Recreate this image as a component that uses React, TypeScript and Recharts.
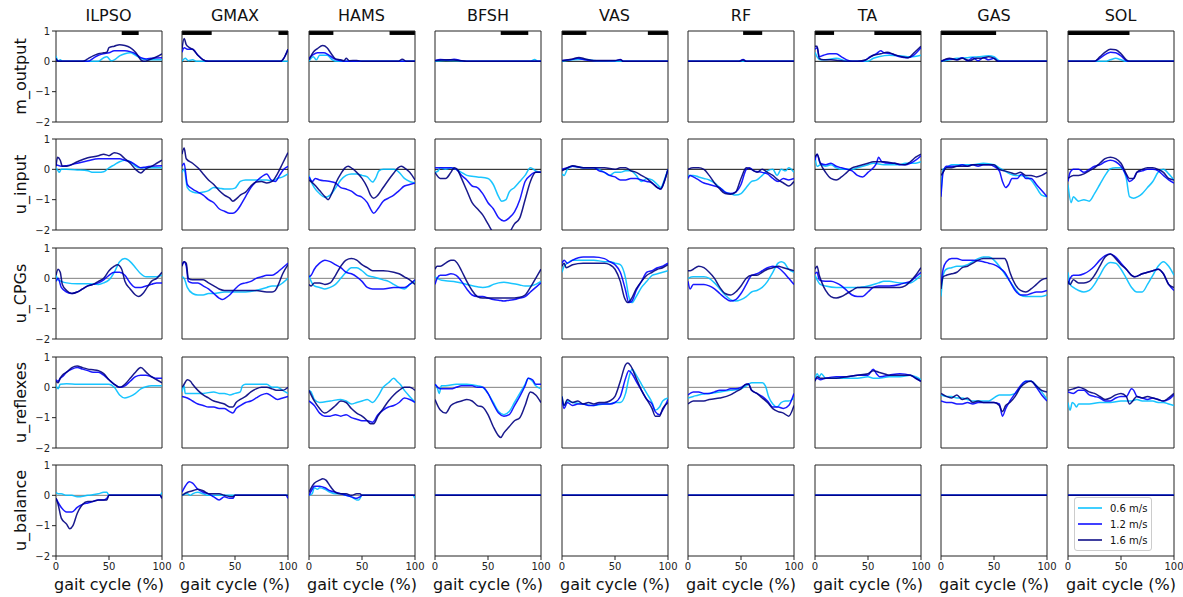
import { Legend, Line, LineChart, ReferenceArea, ReferenceLine, XAxis, YAxis } from "recharts"

type Pt = [number, number]

const MUSCLES = ["ILPSO", "GMAX", "HAMS", "BFSH", "VAS", "RF", "TA", "GAS", "SOL"]
const SIGNALS = ["m_output", "u_input", "u_CPGs", "u_reflexes", "u_balance"]
const SPEEDS = ["0.6 m/s", "1.2 m/s", "1.6 m/s"]
const COLORS = ["#00bfff", "#0000ff", "#000080"]
const X_TICKS = [0, 50, 100]
const Y_TICKS = [-2, -1, 0, 1]

// black bars on top of the m_output panels (% of gait cycle)
const ACTIVE: [number, number][][] = [
  [[62, 78]],
  [[0, 28], [91, 100]],
  [[0, 23], [76, 100]],
  [[62, 88]],
  [[0, 23], [81, 100]],
  [[52, 70]],
  [[0, 18], [56, 100]],
  [[0, 52]],
  [[0, 58]],
]

const ZERO: Pt[] = [[0, 0], [100, 0]]

// each muscle: [0.6 m/s, 1.2 m/s, 1.6 m/s]
const M_OUTPUT: Pt[][][] = [
  [ // ILPSO
    [[0, 0.18], [2, 0.02], [4, 0.05], [6, 0], [40, 0], [45, 0.12], [48, 0.15], [52, 0.02], [55, 0.05], [60, 0.18], [65, 0.25], [70, 0.28], [75, 0.2], [80, 0.1], [85, 0.05], [90, 0.05], [100, 0.05]],
    [[0, 0.05], [3, 0], [30, 0], [35, 0.1], [40, 0.2], [45, 0.25], [50, 0.28], [55, 0.35], [60, 0.35], [65, 0.35], [70, 0.32], [75, 0.25], [80, 0.12], [85, 0.08], [90, 0.1], [100, 0.12]],
    [[0, 0.1], [2, 0], [25, 0], [30, 0.08], [35, 0.18], [40, 0.25], [45, 0.28], [48, 0.3], [50, 0.45], [55, 0.5], [60, 0.55], [65, 0.52], [70, 0.45], [75, 0.3], [80, 0.05], [83, 0], [88, 0.05], [95, 0.15], [100, 0.25]],
  ],
  [ // GMAX
    [[0, 0], [3, 0.1], [6, 0.02], [10, 0.05], [14, 0], [100, 0]],
    [[0, 0.3], [2, 0.45], [5, 0.4], [10, 0.4], [15, 0.2], [20, 0.05], [25, 0], [93, 0], [96, 0.1], [100, 0.4]],
    [[0, 0.4], [2, 0.75], [4, 0.55], [7, 0.45], [10, 0.4], [15, 0.2], [20, 0.05], [25, 0], [93, 0], [96, 0.1], [100, 0.4]],
  ],
  [ // HAMS
    [[0, 0], [4, 0.15], [7, 0.05], [10, 0.2], [17, 0.2], [22, 0.05], [26, 0], [100, 0]],
    [[0, 0.1], [4, 0.22], [8, 0.28], [14, 0.28], [18, 0.22], [23, 0.1], [30, 0.02], [35, 0], [100, 0]],
    [[0, 0.05], [4, 0.3], [8, 0.42], [13, 0.52], [17, 0.45], [21, 0.25], [25, 0.08], [30, 0.05], [33, 0.02], [35, 0.1], [38, 0.02], [45, 0.03], [50, 0], [84, 0], [88, 0.07], [92, 0], [100, 0]],
  ],
  [ // BFSH
    [[0, 0], [10, 0.03], [20, 0.02], [30, 0], [90, 0], [94, 0.06], [97, 0], [100, 0]],
    [[0, 0.03], [5, 0.06], [12, 0.04], [18, 0.07], [25, 0.02], [30, 0], [100, 0]],
    [[0, 0.02], [6, 0.04], [14, 0.05], [22, 0.03], [30, 0], [100, 0]],
  ],
  [ // VAS
    [[0, 0], [10, 0.05], [20, 0.07], [30, 0.03], [40, 0.02], [60, 0], [100, 0]],
    [[0, 0.03], [8, 0.05], [15, 0.1], [20, 0.06], [30, 0.02], [50, 0.02], [55, 0.06], [58, 0], [100, 0]],
    [[0, 0.02], [10, 0.08], [16, 0.13], [22, 0.08], [30, 0.03], [50, 0.03], [55, 0.05], [58, 0], [100, 0]],
  ],
  [ // RF
    [[0, 0], [100, 0]],
    [[0, 0], [48, 0], [52, 0.06], [55, 0], [100, 0]],
    [[0, 0], [48, 0], [52, 0.04], [55, 0], [100, 0]],
  ],
  [ // TA
    [[0, 0.3], [2, 0.15], [5, 0.05], [10, 0.05], [20, 0.1], [28, 0.02], [35, 0], [50, 0], [55, 0.1], [60, 0.15], [70, 0.2], [80, 0.18], [90, 0.15], [100, 0.2]],
    [[0, 0.4], [2, 0.45], [4, 0.15], [8, 0.2], [14, 0.25], [20, 0.25], [25, 0.15], [30, 0.05], [35, 0], [45, 0], [52, 0.15], [58, 0.25], [62, 0.35], [65, 0.28], [72, 0.25], [80, 0.15], [87, 0.12], [93, 0.2], [100, 0.45]],
    [[0, 0.5], [2, 0.5], [4, 0.1], [8, 0.05], [15, 0.05], [22, 0.03], [30, 0], [40, 0], [48, 0.05], [55, 0.2], [62, 0.25], [68, 0.3], [75, 0.22], [82, 0.15], [88, 0.12], [94, 0.3], [100, 0.5]],
  ],
  [ // GAS
    [[0, 0], [8, 0.05], [15, 0.1], [25, 0.12], [35, 0.15], [45, 0.18], [50, 0.15], [55, 0.02], [58, 0], [100, 0]],
    [[0, 0], [8, 0.08], [15, 0.05], [20, 0.12], [25, 0.02], [30, 0.12], [35, 0.02], [40, 0.12], [45, 0.05], [50, 0.1], [54, 0], [100, 0]],
    [[0, 0], [8, 0.1], [15, 0.05], [20, 0.1], [27, 0.02], [33, 0.1], [38, 0.1], [45, 0.15], [50, 0.1], [54, 0], [100, 0]],
  ],
  [ // SOL
    [[0, 0], [35, 0], [40, 0.05], [45, 0.1], [50, 0.05], [55, 0], [100, 0]],
    [[0, 0], [25, 0], [30, 0.1], [35, 0.22], [40, 0.3], [45, 0.28], [50, 0.18], [55, 0.02], [58, 0], [100, 0]],
    [[0, 0], [25, 0], [30, 0.15], [35, 0.3], [40, 0.4], [45, 0.38], [50, 0.25], [55, 0.05], [58, 0], [100, 0]],
  ],
]

const U_INPUT: Pt[][][] = [
  [ // ILPSO
    [[0, 0.05], [2, -0.05], [3, -0.1], [5, 0], [10, 0], [20, -0.02], [30, -0.05], [35, -0.1], [40, -0.1], [45, -0.08], [50, 0.05], [55, 0.15], [60, 0.25], [65, 0.3], [70, 0.25], [75, 0.1], [80, 0.05], [90, 0.05], [100, 0.05]],
    [[0, 0.15], [5, 0.1], [10, 0.12], [20, 0.2], [30, 0.28], [40, 0.35], [50, 0.35], [60, 0.35], [65, 0.3], [70, 0.25], [75, 0.15], [80, 0.05], [85, 0.08], [90, 0.1], [100, 0.12]],
    [[0, 0.1], [1.5, 0.4], [4, 0.3], [6, 0.1], [10, 0.1], [20, 0.25], [30, 0.38], [40, 0.45], [45, 0.5], [50, 0.45], [55, 0.55], [60, 0.5], [65, 0.35], [70, 0.2], [75, 0], [80, -0.12], [84, 0], [90, 0.1], [95, 0.2], [100, 0.3]],
  ],
  [ // GMAX
    [[0, -0.1], [2, 0], [5, -0.6], [10, -0.75], [15, -0.78], [20, -0.75], [25, -0.7], [30, -0.6], [35, -0.62], [40, -0.65], [45, -0.65], [50, -0.62], [55, -0.4], [60, -0.35], [70, -0.35], [80, -0.35], [85, -0.38], [90, -0.3], [95, -0.25], [100, -0.15]],
    [[0, 0.1], [2, 0.2], [5, -0.5], [10, -0.65], [15, -0.75], [20, -0.85], [25, -1.0], [30, -1.1], [35, -1.3], [40, -1.38], [45, -1.45], [48, -1.45], [52, -1.35], [55, -1.2], [60, -0.9], [65, -0.6], [70, -0.4], [75, -0.25], [80, -0.15], [84, -0.35], [88, -0.4], [92, -0.2], [96, 0], [100, 0.1]],
    [[0, 0.5], [2, 0.7], [4, 0.35], [10, 0.2], [15, 0.05], [20, -0.15], [25, -0.35], [30, -0.5], [35, -0.7], [40, -0.85], [45, -0.95], [48, -1.05], [52, -0.95], [55, -0.85], [60, -0.75], [65, -0.55], [70, -0.42], [75, -0.4], [80, -0.45], [85, -0.4], [90, -0.15], [95, 0.2], [100, 0.55]],
  ],
  [ // HAMS
    [[0, -0.2], [2, -0.4], [5, -0.6], [10, -0.8], [15, -0.92], [20, -0.85], [25, -0.62], [30, -0.35], [35, -0.2], [40, -0.15], [45, -0.15], [50, -0.2], [55, -0.25], [60, -0.42], [63, -0.28], [66, -0.05], [70, 0], [80, 0], [85, -0.1], [90, -0.3], [95, -0.4], [100, -0.45]],
    [[0, -0.25], [3, -0.4], [6, -0.3], [10, -0.35], [15, -0.38], [20, -0.4], [25, -0.45], [30, -0.6], [35, -0.65], [40, -0.72], [45, -0.85], [50, -0.92], [55, -1.1], [58, -1.3], [61, -1.45], [65, -1.3], [70, -1.05], [75, -0.95], [80, -0.85], [85, -0.7], [90, -0.55], [95, -0.5], [100, -0.45]],
    [[0, -0.35], [5, -0.5], [10, -0.7], [15, -0.9], [18, -1.0], [22, -0.75], [26, -0.4], [30, -0.15], [34, 0.05], [37, 0.1], [41, 0.02], [45, -0.1], [50, -0.3], [55, -0.6], [58, -0.85], [61, -0.95], [65, -0.85], [70, -0.6], [75, -0.35], [80, -0.12], [84, 0.05], [87, 0.1], [90, 0.05], [95, -0.1], [100, -0.35]],
  ],
  [ // BFSH
    [[0, -0.1], [3, -0.05], [5, 0.05], [10, 0], [15, 0.05], [20, 0], [25, -0.1], [30, -0.2], [40, -0.25], [50, -0.3], [55, -0.5], [60, -0.9], [63, -1.05], [67, -1.0], [70, -0.75], [75, -0.6], [80, -0.4], [85, -0.2], [90, 0.05], [95, -0.05], [100, -0.1]],
    [[0, 0.05], [5, 0.05], [10, 0.05], [15, 0.05], [20, 0], [25, -0.2], [30, -0.35], [35, -0.55], [40, -0.6], [45, -0.8], [50, -1.1], [55, -1.3], [60, -1.6], [65, -1.7], [70, -1.6], [75, -1.4], [80, -1.0], [85, -0.4], [90, -0.2], [95, -0.1], [100, -0.1]],
    [[0, -0.1], [5, -0.3], [10, -0.3], [15, -0.1], [18, 0.05], [21, 0], [25, -0.3], [30, -0.7], [35, -1.1], [40, -1.3], [45, -1.5], [50, -1.8], [55, -2.1], [60, -2.3], [65, -2.3], [70, -2.1], [75, -1.8], [80, -1.6], [85, -1.0], [90, -0.4], [95, -0.1], [100, -0.1]],
  ],
  [ // VAS
    [[0, -0.15], [2, -0.2], [5, 0], [10, 0.1], [20, 0.05], [30, 0.05], [35, 0], [40, -0.1], [45, -0.2], [50, -0.1], [55, -0.1], [60, -0.05], [65, -0.05], [70, -0.2], [75, -0.4], [80, -0.3], [85, -0.35], [90, -0.5], [93, -0.6], [97, -0.3], [100, 0]],
    [[0, 0], [5, 0.05], [10, 0.1], [20, 0.05], [30, 0.05], [35, -0.05], [40, -0.1], [45, -0.2], [50, -0.25], [55, -0.35], [60, -0.35], [65, -0.3], [70, -0.3], [75, -0.35], [80, -0.4], [85, -0.45], [90, -0.6], [93, -0.65], [97, -0.35], [100, 0]],
    [[0, -0.05], [5, 0.05], [10, 0.12], [20, 0.05], [30, 0.05], [40, 0.05], [50, 0], [55, 0.05], [60, 0.05], [65, -0.05], [70, -0.1], [75, -0.2], [80, -0.3], [85, -0.45], [90, -0.6], [93, -0.65], [97, -0.35], [100, 0]],
  ],
  [ // RF
    [[0, -0.2], [5, -0.2], [10, -0.25], [15, -0.3], [20, -0.35], [25, -0.45], [30, -0.6], [35, -0.75], [40, -0.8], [45, -0.85], [50, -0.8], [55, -0.6], [60, -0.4], [65, -0.35], [70, -0.2], [75, -0.05], [80, 0], [84, -0.2], [88, 0], [92, -0.05], [95, 0.05], [100, -0.1]],
    [[0, -0.3], [2, -0.2], [5, -0.25], [10, -0.35], [15, -0.45], [20, -0.5], [25, -0.55], [30, -0.6], [35, -0.75], [40, -0.8], [45, -0.75], [50, -0.5], [55, 0], [58, 0.05], [62, -0.05], [70, -0.1], [75, -0.15], [80, -0.3], [85, -0.4], [90, -0.3], [95, -0.35], [100, -0.3]],
    [[0, 0], [5, 0.05], [10, 0.05], [15, 0], [20, -0.2], [25, -0.45], [30, -0.65], [35, -0.8], [40, -0.82], [45, -0.75], [50, -0.3], [55, 0.05], [60, 0], [65, -0.1], [70, 0], [75, -0.1], [80, -0.2], [85, -0.35], [90, -0.45], [95, -0.55], [100, -0.4]],
  ],
  [ // TA
    [[0, 0.4], [2, 0.1], [5, 0.15], [10, 0.1], [15, 0.15], [20, 0.05], [25, 0], [35, 0], [40, 0.05], [45, 0.1], [50, 0.15], [55, 0.2], [65, 0.15], [80, 0.15], [85, 0.2], [95, 0.2], [100, 0.25]],
    [[0, 0.3], [2, 0.5], [5, 0.2], [10, 0.15], [15, 0.2], [20, 0.1], [25, 0.05], [30, 0], [35, -0.05], [40, -0.2], [45, -0.25], [50, -0.1], [55, 0.05], [58, 0.2], [60, 0.4], [63, 0.25], [70, 0.2], [75, 0.2], [80, 0.15], [85, 0.15], [90, 0.2], [95, 0.3], [100, 0.45]],
    [[0, 0.4], [2, 0.5], [5, 0.2], [10, -0.1], [15, -0.3], [20, -0.35], [25, -0.25], [30, -0.1], [35, 0.05], [40, 0.1], [45, 0.15], [50, 0.2], [55, 0.25], [65, 0.25], [75, 0.2], [85, 0.15], [90, 0.25], [95, 0.4], [100, 0.5]],
  ],
  [ // GAS
    [[0, -0.8], [2, 0], [5, 0.05], [10, 0.15], [20, 0.15], [30, 0.15], [40, 0.2], [50, 0.15], [55, 0.05], [60, -0.05], [65, -0.15], [70, -0.2], [75, -0.2], [80, -0.25], [85, -0.35], [90, -0.6], [95, -0.85], [100, -0.9]],
    [[0, -0.9], [2, -0.1], [5, 0.1], [10, 0.1], [15, 0.1], [20, 0.15], [25, 0.1], [30, 0.15], [35, 0.1], [40, 0.15], [45, 0.15], [50, 0.1], [55, -0.05], [58, -0.4], [61, -0.6], [64, -0.5], [67, -0.3], [72, -0.3], [76, -0.15], [80, -0.3], [85, -0.3], [90, -0.5], [95, -0.7], [100, -0.9]],
    [[0, -0.2], [2, -0.1], [5, 0.05], [10, 0.05], [15, 0.1], [20, 0.1], [25, 0.1], [30, 0.15], [40, 0.15], [50, 0.15], [55, 0], [60, -0.05], [65, -0.1], [70, -0.15], [75, -0.1], [80, -0.2], [85, -0.2], [90, -0.25], [95, -0.2], [100, -0.1]],
  ],
  [ // SOL
    [[0, -0.5], [3, -1.1], [5, -0.9], [8, -1.0], [10, -1.05], [15, -1.0], [20, -1.05], [25, -0.8], [30, -0.5], [35, -0.2], [40, 0.02], [45, 0.05], [50, 0.05], [55, -0.3], [58, -0.9], [62, -0.95], [66, -0.9], [70, -0.8], [75, -0.6], [80, -0.4], [85, -0.1], [90, 0], [95, -0.15], [100, -0.35]],
    [[0, -0.4], [2, -0.1], [5, 0], [10, 0], [15, -0.1], [20, 0], [25, 0.1], [30, 0.15], [35, 0.25], [40, 0.3], [45, 0.25], [50, 0.1], [55, -0.2], [58, -0.4], [62, -0.3], [65, -0.1], [70, -0.05], [75, 0], [80, 0], [85, -0.05], [90, -0.2], [95, -0.35], [100, -0.45]],
    [[0, -0.3], [5, -0.2], [10, -0.2], [15, -0.15], [20, -0.05], [25, 0.05], [30, 0.2], [35, 0.35], [40, 0.4], [45, 0.35], [50, 0.2], [55, -0.15], [58, -0.3], [62, -0.3], [65, -0.1], [70, 0], [75, 0.05], [80, 0.05], [85, 0], [90, -0.1], [95, -0.3], [100, -0.35]],
  ],
]

const U_CPGS: Pt[][][] = [
  [ // ILPSO
    [[0, 0.1], [2, -0.05], [5, -0.1], [10, -0.15], [20, -0.18], [30, -0.18], [40, -0.2], [45, -0.15], [50, -0.05], [55, 0.2], [60, 0.55], [65, 0.65], [70, 0.55], [75, 0.35], [80, 0.15], [85, 0.05], [90, 0.05], [95, 0.05], [100, 0.1]],
    [[0, -0.1], [2, 0], [5, -0.3], [10, -0.45], [15, -0.5], [20, -0.45], [25, -0.35], [30, -0.25], [35, -0.2], [40, -0.15], [45, -0.05], [50, 0.1], [55, 0.2], [60, 0.2], [65, 0.1], [70, -0.15], [75, -0.3], [80, -0.3], [85, -0.25], [90, -0.2], [95, -0.15], [100, -0.15]],
    [[0, 0.1], [2, 0.3], [4, 0.2], [6, -0.2], [10, -0.4], [15, -0.5], [20, -0.45], [25, -0.35], [30, -0.25], [35, -0.2], [40, -0.1], [45, 0], [50, 0.25], [55, 0.4], [58, 0.45], [62, 0.3], [65, -0.1], [70, -0.35], [75, -0.55], [78, -0.6], [82, -0.5], [86, -0.3], [90, -0.1], [95, 0], [100, 0.2]],
  ],
  [ // GMAX
    [[0, 0.05], [2, 0], [5, -0.3], [10, -0.5], [15, -0.55], [20, -0.55], [25, -0.5], [30, -0.5], [40, -0.45], [50, -0.45], [60, -0.45], [70, -0.4], [75, -0.35], [80, -0.3], [85, -0.25], [90, -0.25], [95, -0.15], [100, 0]],
    [[0, 0.45], [2, 0.55], [4, 0.4], [6, -0.1], [10, -0.15], [15, -0.15], [20, -0.25], [25, -0.35], [30, -0.5], [35, -0.65], [38, -0.7], [41, -0.65], [45, -0.55], [50, -0.35], [55, -0.2], [60, -0.15], [65, -0.1], [70, 0], [75, 0.05], [80, 0.1], [85, 0.1], [90, 0.2], [95, 0.35], [100, 0.5]],
    [[0, 0.4], [2, 0.55], [4, 0.5], [6, 0], [10, -0.05], [15, -0.05], [20, -0.05], [25, -0.15], [30, -0.25], [35, -0.35], [40, -0.4], [50, -0.4], [60, -0.4], [70, -0.4], [80, -0.45], [85, -0.45], [88, -0.4], [91, -0.2], [95, 0.15], [100, 0.45]],
  ],
  [ // HAMS
    [[0, 0.1], [2, -0.1], [5, -0.25], [10, -0.3], [15, -0.35], [20, -0.3], [25, -0.2], [30, 0], [35, 0.2], [40, 0.35], [45, 0.35], [50, 0.25], [55, 0.1], [60, 0.05], [65, 0], [70, -0.05], [75, -0.1], [80, -0.2], [85, -0.3], [90, -0.35], [95, -0.2], [100, -0.1]],
    [[0, 0.05], [2, 0.1], [5, 0.3], [10, 0.5], [15, 0.6], [20, 0.55], [25, 0.45], [30, 0.35], [35, 0.2], [40, 0.15], [45, 0.05], [50, -0.1], [55, -0.3], [60, -0.35], [70, -0.35], [80, -0.3], [90, -0.3], [95, -0.2], [100, -0.05]],
    [[0, -0.2], [2, -0.25], [5, -0.15], [10, -0.15], [15, -0.2], [20, -0.15], [25, 0.1], [30, 0.4], [35, 0.6], [40, 0.65], [45, 0.6], [50, 0.45], [55, 0.35], [60, 0.25], [70, 0.25], [80, 0.2], [85, 0.15], [90, 0.05], [95, -0.05], [100, -0.2]],
  ],
  [ // BFSH
    [[0, 0.05], [5, -0.05], [10, -0.08], [20, -0.12], [30, -0.2], [40, -0.28], [45, -0.3], [50, -0.28], [55, -0.2], [60, -0.15], [65, -0.13], [70, -0.15], [80, -0.22], [85, -0.25], [90, -0.25], [95, -0.2], [100, -0.1]],
    [[0, -0.2], [2, 0], [5, 0.1], [10, 0.1], [15, 0.15], [20, 0.1], [25, -0.1], [30, -0.35], [35, -0.55], [40, -0.6], [45, -0.6], [50, -0.65], [55, -0.7], [60, -0.72], [65, -0.75], [70, -0.72], [75, -0.7], [80, -0.65], [85, -0.6], [90, -0.45], [95, -0.3], [100, -0.15]],
    [[0, 0.3], [2, 0.4], [5, 0.4], [10, 0.5], [15, 0.6], [18, 0.6], [21, 0.5], [25, 0.25], [30, -0.1], [35, -0.4], [40, -0.6], [45, -0.65], [50, -0.65], [60, -0.65], [70, -0.65], [80, -0.62], [85, -0.55], [90, -0.3], [95, 0], [100, 0.3]],
  ],
  [ // VAS
    [[0, 0.2], [2, 0.4], [5, 0.5], [10, 0.6], [20, 0.6], [30, 0.6], [40, 0.55], [45, 0.55], [50, 0.5], [55, 0.45], [60, 0], [63, -0.6], [66, -0.8], [70, -0.6], [75, -0.3], [80, -0.1], [85, 0.1], [90, 0.15], [95, 0.2], [100, 0.25]],
    [[0, 0.5], [2, 0.6], [5, 0.5], [10, 0.6], [20, 0.7], [30, 0.7], [40, 0.65], [45, 0.55], [50, 0.45], [55, 0.2], [60, -0.4], [63, -0.8], [66, -0.75], [70, -0.4], [75, -0.1], [80, 0.2], [85, 0.25], [90, 0.35], [95, 0.4], [100, 0.5]],
    [[0, 0.4], [2, 0.5], [4, 0.35], [10, 0.45], [20, 0.5], [30, 0.5], [40, 0.5], [45, 0.45], [50, 0.3], [55, -0.1], [59, -0.65], [62, -0.8], [65, -0.7], [70, -0.35], [75, -0.1], [80, 0.1], [85, 0.2], [90, 0.3], [95, 0.35], [100, 0.45]],
  ],
  [ // RF
    [[0, 0], [5, 0.05], [10, 0.05], [15, 0.05], [20, 0], [25, -0.15], [30, -0.35], [35, -0.55], [40, -0.7], [45, -0.75], [50, -0.7], [55, -0.6], [60, -0.45], [65, -0.4], [70, -0.3], [75, -0.1], [80, 0.2], [85, 0.5], [88, 0.55], [91, 0.5], [95, 0.3], [100, 0.2]],
    [[0, -0.1], [2, -0.35], [5, -0.2], [10, -0.2], [15, -0.2], [20, -0.25], [25, -0.35], [30, -0.5], [35, -0.65], [40, -0.75], [45, -0.7], [50, -0.5], [55, -0.2], [60, 0.1], [65, 0.15], [70, 0.25], [75, 0.35], [80, 0.4], [85, 0.35], [90, 0.2], [95, 0], [100, -0.2]],
    [[0, 0.25], [2, 0.25], [5, 0.3], [10, 0.4], [15, 0.35], [20, 0.2], [25, 0], [30, -0.3], [35, -0.5], [40, -0.55], [45, -0.45], [50, -0.25], [55, 0], [60, 0.1], [65, 0.1], [70, 0.2], [75, 0.3], [80, 0.35], [85, 0.4], [90, 0.35], [95, 0.3], [100, 0.25]],
  ],
  [ // TA
    [[0, 0.1], [2, -0.05], [5, -0.2], [10, -0.25], [20, -0.3], [30, -0.3], [40, -0.3], [50, -0.25], [60, -0.15], [65, -0.1], [70, -0.1], [80, -0.15], [90, -0.15], [95, -0.05], [100, 0.1]],
    [[0, 0.15], [2, 0.2], [4, -0.05], [10, -0.1], [15, -0.1], [20, -0.15], [25, -0.25], [30, -0.4], [35, -0.55], [40, -0.6], [45, -0.6], [50, -0.45], [55, -0.3], [60, -0.25], [70, -0.25], [80, -0.2], [85, -0.15], [90, -0.1], [95, 0.05], [100, 0.2]],
    [[0, 0.3], [2, 0.4], [4, 0.1], [6, -0.1], [10, -0.4], [15, -0.6], [20, -0.65], [25, -0.6], [30, -0.5], [35, -0.4], [40, -0.3], [50, -0.3], [60, -0.3], [70, -0.3], [80, -0.3], [85, -0.25], [90, -0.1], [95, 0.1], [100, 0.35]],
  ],
  [ // GAS
    [[0, -0.6], [2, 0.1], [5, 0.3], [10, 0.35], [15, 0.4], [20, 0.4], [25, 0.45], [30, 0.55], [35, 0.65], [40, 0.7], [45, 0.7], [50, 0.6], [55, 0.4], [60, 0.15], [65, -0.1], [70, -0.35], [75, -0.55], [80, -0.6], [90, -0.6], [95, -0.6], [100, -0.55]],
    [[0, -0.2], [2, 0.3], [5, 0.55], [10, 0.65], [15, 0.65], [20, 0.6], [30, 0.6], [35, 0.58], [40, 0.55], [45, 0.5], [50, 0.45], [55, 0.35], [60, 0.2], [65, -0.1], [70, -0.4], [75, -0.55], [80, -0.55], [85, -0.5], [90, -0.45], [95, -0.45], [100, -0.4]],
    [[0, -0.35], [2, 0.05], [5, 0.1], [10, 0.15], [15, 0.2], [20, 0.35], [25, 0.4], [30, 0.5], [35, 0.6], [40, 0.65], [50, 0.65], [60, 0.65], [62, 0.55], [65, 0.2], [70, -0.2], [75, -0.4], [80, -0.45], [85, -0.35], [90, -0.2], [95, -0.05], [100, 0]],
  ],
  [ // SOL
    [[0, 0.2], [2, -0.2], [5, -0.3], [10, -0.4], [15, -0.45], [20, -0.4], [25, -0.2], [30, 0.1], [35, 0.4], [40, 0.52], [45, 0.5], [50, 0.3], [55, 0], [60, -0.3], [65, -0.45], [70, -0.45], [75, -0.2], [80, 0.1], [85, 0.4], [90, 0.55], [95, 0.4], [100, 0.1]],
    [[0, -0.2], [2, 0], [5, 0.1], [10, 0.1], [15, 0.15], [20, 0.25], [25, 0.4], [30, 0.6], [35, 0.75], [40, 0.8], [45, 0.7], [50, 0.5], [55, 0.3], [60, 0.1], [63, 0.05], [70, 0.15], [80, 0.25], [85, 0.3], [90, 0.15], [95, -0.2], [100, -0.4]],
    [[0, -0.1], [2, -0.2], [5, -0.05], [10, -0.15], [15, -0.15], [20, -0.1], [25, 0.1], [30, 0.4], [35, 0.7], [40, 0.8], [45, 0.65], [50, 0.45], [55, 0.3], [60, 0.1], [63, 0.05], [70, 0.15], [80, 0.25], [85, 0.3], [90, 0.15], [95, -0.2], [100, -0.3]],
  ],
]

const U_REFLEXES: Pt[][][] = [
  [ // ILPSO
    [[0, 0.05], [2, -0.05], [4, 0.1], [10, 0.12], [20, 0.1], [30, 0.1], [40, 0.1], [50, 0.1], [55, 0], [60, -0.25], [65, -0.35], [70, -0.3], [75, -0.2], [80, -0.05], [85, 0.02], [90, 0.05], [100, 0.05]],
    [[0, 0.25], [2, 0.2], [4, 0.3], [6, 0.35], [10, 0.5], [15, 0.6], [20, 0.65], [25, 0.6], [30, 0.55], [35, 0.5], [40, 0.5], [45, 0.4], [50, 0.25], [55, 0.1], [60, 0], [65, 0.05], [70, 0.2], [75, 0.35], [80, 0.4], [85, 0.4], [90, 0.35], [95, 0.3], [100, 0.3]],
    [[0, 0.2], [2, 0.15], [4, 0.3], [6, 0.4], [10, 0.5], [15, 0.65], [20, 0.7], [25, 0.65], [30, 0.6], [35, 0.58], [40, 0.55], [45, 0.45], [50, 0.25], [55, 0.1], [60, 0], [65, 0.1], [70, 0.3], [75, 0.5], [80, 0.65], [85, 0.5], [90, 0.35], [95, 0.25], [100, 0.15]],
  ],
  [ // GMAX
    [[0, -0.15], [2, 0.05], [3, -0.2], [10, -0.2], [20, -0.2], [30, -0.15], [35, -0.2], [40, -0.2], [45, -0.25], [50, -0.2], [55, -0.15], [57, 0.05], [60, 0.1], [75, 0.1], [80, 0.1], [85, 0], [90, 0], [95, -0.1], [100, -0.2]],
    [[0, -0.3], [5, -0.35], [10, -0.45], [15, -0.55], [20, -0.6], [25, -0.65], [30, -0.65], [35, -0.7], [40, -0.7], [45, -0.8], [48, -0.85], [51, -0.7], [55, -0.6], [60, -0.5], [65, -0.45], [70, -0.35], [75, -0.25], [80, -0.2], [85, -0.3], [90, -0.4], [95, -0.35], [100, -0.3]],
    [[0, 0], [2, 0.1], [5, 0.25], [8, 0.2], [10, 0.1], [15, -0.1], [20, -0.25], [25, -0.35], [30, -0.45], [35, -0.5], [40, -0.55], [45, -0.65], [48, -0.65], [51, -0.5], [55, -0.4], [60, -0.3], [65, -0.15], [70, -0.05], [75, 0], [80, 0], [85, -0.05], [90, -0.1], [95, -0.1], [100, 0]],
  ],
  [ // HAMS
    [[0, -0.1], [2, -0.15], [5, -0.4], [10, -0.5], [20, -0.45], [30, -0.4], [35, -0.45], [40, -0.55], [45, -0.5], [50, -0.45], [55, -0.4], [60, -0.5], [65, -0.3], [70, 0], [75, 0.15], [80, 0.3], [83, 0.2], [86, 0.1], [90, -0.1], [95, -0.3], [100, -0.5]],
    [[0, -0.45], [5, -0.6], [10, -0.85], [15, -0.95], [20, -0.95], [25, -0.9], [30, -0.95], [35, -0.9], [40, -1.0], [45, -1.05], [50, -1.1], [55, -1.1], [60, -1.15], [65, -0.9], [70, -0.75], [75, -0.65], [80, -0.6], [85, -0.5], [90, -0.35], [95, -0.4], [100, -0.5]],
    [[0, -0.1], [5, -0.45], [10, -0.7], [15, -0.85], [20, -0.75], [25, -0.6], [30, -0.45], [35, -0.5], [40, -0.7], [45, -0.85], [50, -0.95], [55, -1.1], [58, -1.2], [61, -1.2], [65, -0.95], [70, -0.7], [75, -0.45], [80, -0.25], [85, -0.1], [90, 0], [95, 0], [100, -0.1]],
  ],
  [ // BFSH
    [[0, 0.1], [2, 0], [4, -0.2], [6, 0.05], [10, 0.05], [20, 0.1], [30, 0.1], [40, 0.05], [45, 0], [50, -0.2], [55, -0.5], [60, -0.8], [65, -0.9], [70, -0.8], [75, -0.5], [80, -0.2], [85, 0.1], [88, 0.3], [92, 0.2], [95, 0.05], [100, -0.05]],
    [[0, 0.1], [5, -0.05], [10, -0.05], [15, -0.05], [20, 0], [25, 0.05], [30, 0.05], [35, 0.05], [40, 0], [45, 0], [50, -0.2], [55, -0.55], [60, -0.85], [65, -0.95], [70, -0.9], [75, -0.6], [80, -0.3], [85, 0.05], [88, 0.3], [92, 0.25], [95, 0.1], [100, 0.1]],
    [[0, -0.4], [5, -0.75], [10, -0.85], [15, -0.6], [20, -0.5], [25, -0.45], [30, -0.4], [35, -0.45], [40, -0.6], [45, -0.65], [50, -0.9], [55, -1.3], [60, -1.6], [62, -1.65], [65, -1.5], [70, -1.3], [75, -1.1], [80, -1.0], [85, -0.6], [90, -0.15], [95, -0.25], [100, -0.5]],
  ],
  [ // VAS
    [[0, -0.3], [2, -0.6], [5, -0.45], [10, -0.5], [20, -0.55], [30, -0.6], [40, -0.55], [45, -0.55], [50, -0.5], [55, -0.5], [60, -0.2], [63, 0.3], [66, 0.6], [70, 0.4], [75, 0.1], [80, -0.2], [85, -0.5], [88, -0.75], [92, -0.65], [95, -0.45], [100, -0.35]],
    [[0, -0.4], [2, -0.7], [5, -0.5], [10, -0.6], [15, -0.55], [20, -0.55], [25, -0.6], [30, -0.6], [35, -0.55], [40, -0.55], [45, -0.55], [50, -0.5], [55, -0.3], [60, 0.3], [63, 0.55], [66, 0.45], [70, 0.2], [75, -0.1], [80, -0.4], [85, -0.55], [88, -0.8], [92, -0.9], [95, -0.75], [100, -0.4]],
    [[0, -0.3], [2, -0.6], [5, -0.4], [10, -0.5], [15, -0.45], [20, -0.55], [25, -0.5], [30, -0.55], [35, -0.5], [40, -0.5], [45, -0.45], [50, -0.3], [55, 0.2], [60, 0.75], [62, 0.8], [65, 0.7], [70, 0.3], [75, -0.1], [80, -0.4], [85, -0.7], [88, -0.95], [92, -0.95], [95, -0.7], [100, -0.5]],
  ],
  [ // RF
    [[0, -0.35], [5, -0.3], [10, -0.25], [20, -0.2], [30, -0.15], [40, -0.1], [50, -0.05], [55, 0.05], [60, 0.15], [70, 0.15], [73, 0.05], [76, -0.3], [80, -0.55], [84, -0.65], [88, -0.5], [92, -0.45], [95, -0.45], [100, -0.35]],
    [[0, -0.25], [5, -0.15], [10, -0.15], [15, -0.2], [20, -0.2], [25, -0.15], [30, -0.1], [35, -0.1], [40, -0.05], [45, -0.05], [50, 0], [55, 0.1], [57, 0.12], [60, -0.1], [65, -0.2], [70, -0.3], [75, -0.45], [80, -0.65], [85, -0.65], [90, -0.7], [95, -0.6], [100, -0.2]],
    [[0, -0.55], [5, -0.45], [10, -0.45], [15, -0.45], [20, -0.4], [30, -0.35], [40, -0.25], [45, -0.15], [50, -0.05], [55, 0.1], [57, 0.1], [60, -0.1], [65, -0.2], [70, -0.35], [75, -0.5], [80, -0.7], [85, -0.8], [90, -0.85], [95, -0.95], [100, -0.6]],
  ],
  [ // TA
    [[0, 0.3], [2, 0.45], [4, 0.35], [6, 0.45], [10, 0.3], [20, 0.3], [30, 0.3], [40, 0.3], [50, 0.35], [55, 0.3], [60, 0.3], [70, 0.35], [80, 0.35], [90, 0.4], [95, 0.35], [100, 0.25]],
    [[0, 0.25], [2, 0.3], [5, 0.25], [10, 0.3], [20, 0.35], [30, 0.35], [40, 0.4], [50, 0.4], [55, 0.6], [58, 0.45], [61, 0.35], [70, 0.4], [80, 0.45], [90, 0.4], [95, 0.3], [100, 0.2]],
    [[0, 0.2], [2, 0.35], [5, 0.3], [10, 0.3], [20, 0.3], [30, 0.35], [40, 0.4], [50, 0.45], [55, 0.55], [60, 0.5], [65, 0.45], [70, 0.4], [80, 0.4], [90, 0.4], [95, 0.3], [100, 0.2]],
  ],
  [ // GAS
    [[0, -0.25], [5, -0.3], [10, -0.3], [15, -0.35], [20, -0.35], [25, -0.4], [30, -0.45], [40, -0.45], [45, -0.45], [50, -0.35], [55, -0.25], [65, -0.25], [70, -0.2], [75, 0], [80, 0.2], [85, 0.2], [90, 0.05], [95, -0.15], [100, -0.4]],
    [[0, -0.45], [5, -0.5], [10, -0.5], [15, -0.55], [20, -0.55], [25, -0.5], [30, -0.55], [35, -0.5], [40, -0.5], [45, -0.5], [50, -0.5], [55, -0.55], [58, -0.95], [61, -0.7], [65, -0.45], [70, -0.2], [75, 0.05], [80, 0.2], [85, 0.2], [90, 0], [95, -0.25], [100, -0.45]],
    [[0, -0.2], [5, -0.3], [10, -0.35], [15, -0.25], [20, -0.4], [25, -0.35], [30, -0.5], [35, -0.45], [40, -0.5], [45, -0.5], [50, -0.5], [55, -0.6], [58, -0.8], [61, -0.6], [65, -0.5], [70, -0.3], [75, 0], [80, 0.15], [85, 0.2], [90, 0.05], [95, -0.1], [100, -0.15]],
  ],
  [ // SOL
    [[0, -0.5], [2, -0.75], [4, -0.5], [6, -0.55], [8, -0.65], [10, -0.55], [20, -0.55], [30, -0.5], [40, -0.5], [50, -0.45], [60, -0.45], [65, -0.4], [70, -0.45], [80, -0.45], [85, -0.5], [90, -0.5], [95, -0.55], [100, -0.6]],
    [[0, -0.15], [5, -0.2], [10, -0.1], [15, -0.1], [20, -0.25], [25, -0.3], [30, -0.35], [35, -0.45], [40, -0.45], [45, -0.35], [50, -0.3], [55, -0.3], [60, -0.05], [62, -0.1], [65, -0.3], [70, -0.35], [75, -0.4], [80, -0.35], [85, -0.4], [90, -0.45], [95, -0.4], [100, -0.25]],
    [[0, -0.1], [5, -0.05], [10, 0], [15, -0.05], [20, -0.15], [25, -0.2], [30, -0.3], [35, -0.4], [40, -0.35], [45, -0.25], [50, -0.2], [55, -0.3], [58, -0.55], [61, -0.45], [65, -0.3], [70, -0.35], [75, -0.3], [80, -0.35], [85, -0.4], [90, -0.45], [95, -0.35], [100, -0.2]],
  ],
]

const U_BALANCE: Pt[][][] = [
  [ // ILPSO
    [[0, 0.1], [2, 0.05], [5, 0.05], [10, 0], [15, 0], [20, -0.05], [30, 0], [40, 0.05], [45, 0.1], [48, 0.1], [50, 0], [98, 0], [100, 0.1]],
    [[0, -0.1], [5, -0.4], [10, -0.55], [15, -0.55], [20, -0.4], [25, -0.3], [30, -0.25], [35, -0.2], [40, -0.15], [45, -0.15], [48, -0.1], [50, 0], [98, 0], [100, -0.1]],
    [[0, -0.1], [2, -0.3], [5, -0.75], [10, -0.95], [13, -1.1], [16, -1.0], [20, -0.6], [25, -0.3], [30, -0.2], [35, -0.2], [40, -0.15], [45, -0.15], [48, -0.15], [50, 0], [98, 0], [100, -0.1]],
  ],
  [ // GMAX
    [[0, 0], [5, 0.05], [8, 0], [10, 0.05], [15, 0.1], [20, 0.05], [25, 0], [100, 0]],
    [[0, 0.1], [3, 0.3], [7, 0.45], [10, 0.4], [15, 0.2], [20, 0.1], [25, 0.05], [30, -0.05], [35, -0.15], [40, -0.05], [45, -0.1], [48, -0.1], [50, 0], [98, 0], [100, -0.1]],
    [[0, 0], [5, 0.1], [10, 0.15], [15, 0.2], [20, 0.15], [25, 0.05], [30, 0.05], [35, 0.05], [40, 0], [48, -0.05], [50, 0], [100, 0]],
  ],
  [ // HAMS
    [[0, 0], [3, 0.05], [5, 0.25], [8, 0.2], [10, 0.25], [15, 0.2], [20, 0.1], [25, 0.05], [30, 0.05], [35, 0], [40, -0.05], [45, -0.15], [47, -0.15], [50, 0], [98, 0], [100, -0.1]],
    [[0, 0], [3, 0.2], [5, 0.3], [10, 0.3], [15, 0.25], [20, 0.15], [25, 0.1], [30, 0.05], [35, 0], [40, -0.05], [45, -0.1], [48, -0.05], [50, 0], [100, 0]],
    [[0, 0.1], [3, 0.3], [5, 0.4], [10, 0.5], [13, 0.55], [16, 0.5], [20, 0.3], [25, 0.1], [30, 0.05], [35, 0.05], [40, 0], [45, 0.05], [48, 0.05], [50, 0], [100, 0]],
  ],
  [ZERO, ZERO, ZERO], // BFSH
  [ZERO, ZERO, ZERO], // VAS
  [ZERO, ZERO, ZERO], // RF
  [ZERO, ZERO, ZERO], // TA
  [ZERO, ZERO, ZERO], // GAS
  [ZERO, ZERO, ZERO], // SOL
]

const ROWS = [M_OUTPUT, U_INPUT, U_CPGS, U_REFLEXES, U_BALANCE]

const FONT = "'DejaVu Sans', sans-serif"
const COL_X = [55.5, 182, 308.5, 435, 561.5, 688, 814.5, 941, 1067.5]
const ROW_Y = [30.7, 139.3, 248, 356.7, 465.3]
const PW = 106
const PH = 91
const PAD = 10

const fmtTick = (v: number) => (v < 0 ? `\u2212${-v}` : `${v}`)

function LegendBox() {
  return (
    <div
      style={{
        width: 76,
        border: "1px solid #ccc",
        borderRadius: 3,
        background: "rgba(255,255,255,0.8)",
        padding: "2px 0 2px 0",
        fontFamily: FONT,
        fontSize: 10,
        color: "#111",
      }}
    >
      {SPEEDS.map((s, i) => (
        <div key={s} style={{ display: "flex", alignItems: "center", height: 16 }}>
          <svg width={32} height={10} style={{ marginLeft: 3 }}>
            <line x1={0} x2={24} y1={5} y2={5} stroke={COLORS[i]} strokeWidth={1.5} />
          </svg>
          <span>{s}</span>
        </div>
      ))}
    </div>
  )
}

function Panel({ row, col }: { row: number; col: number }) {
  const showY = col === 0
  const showX = row === SIGNALS.length - 1
  const yW = showY ? 50 : 0
  const xH = showX ? 40 : 0
  const series = ROWS[row][col]
  const hasLegend = showX && col === MUSCLES.length - 1
  const tickStyle = { fontSize: 10, fill: "#222", fontFamily: FONT }

  return (
    <div style={{ position: "absolute", left: COL_X[col] - yW - PAD, top: ROW_Y[row] - PAD }}>
      <LineChart
        width={yW + PW + 2 * PAD}
        height={PH + xH + 2 * PAD}
        margin={{ top: PAD, right: PAD, bottom: PAD, left: PAD }}
      >
        <XAxis
          type="number"
          dataKey="x"
          domain={[0, 100]}
          ticks={X_TICKS}
          interval={0}
          allowDataOverflow
          hide={!showX}
          height={xH}
          axisLine={false}
          tickLine={{ stroke: "#222" }}
          tickSize={4}
          tickMargin={3}
          tick={tickStyle}
          label={{ value: "gait cycle (%)", position: "insideBottom", offset: 6, fontSize: 16, fill: "#111", fontFamily: FONT }}
        />
        <YAxis
          type="number"
          domain={[-2, 1]}
          ticks={Y_TICKS}
          interval={0}
          allowDataOverflow
          hide={!showY}
          width={yW}
          axisLine={false}
          tickLine={{ stroke: "#222" }}
          tickSize={4}
          tickMargin={2}
          tick={tickStyle}
          tickFormatter={fmtTick}
          label={{
            value: SIGNALS[row],
            angle: -90,
            position: "insideLeft",
            offset: 14,
            fontSize: 16,
            fill: "#111",
            fontFamily: FONT,
            style: { textAnchor: "middle" },
          }}
        />
        <ReferenceLine y={0} stroke={row < 2 ? "#111" : "#808080"} strokeWidth={1} />
        {row === 0 &&
          ACTIVE[col].map(([a, b], i) => (
            <ReferenceArea key={i} x1={a} x2={b} y1={0.87} y2={1} fill="#000" fillOpacity={1} stroke="none" />
          ))}
        {series.map((pts, s) => (
          <Line
            key={s}
            data={pts.map(([x, y]) => ({ x, y }))}
            dataKey="y"
            name={SPEEDS[s]}
            type="monotone"
            stroke={COLORS[s]}
            strokeWidth={1.5}
            strokeOpacity={0.9}
            dot={false}
            activeDot={false}
            isAnimationActive={false}
          />
        ))}
        <ReferenceArea x1={0} x2={100} y1={-2} y2={1} fill="none" fillOpacity={0} stroke="#222" strokeWidth={1} />
        {hasLegend && (
          <Legend
            layout="horizontal"
            verticalAlign="middle"
            align="center"
            content={<LegendBox />}
            wrapperStyle={{ left: PAD + 6.5, top: PAD + 32, width: "auto" }}
          />
        )}
      </LineChart>
    </div>
  )
}

export default function App() {
  return (
    <div
      style={{
        position: "absolute",
        left: 0,
        top: 0,
        width: 1183,
        height: 597,
        background: "#fff",
        overflow: "hidden",
        fontFamily: FONT,
      }}
    >
      {MUSCLES.map((m, c) => (
        <div
          key={m}
          style={{
            position: "absolute",
            left: COL_X[c],
            top: 6,
            width: PW,
            textAlign: "center",
            fontSize: 16,
            lineHeight: "20px",
            color: "#111",
          }}
        >
          {m}
        </div>
      ))}
      {SIGNALS.map((_, r) => MUSCLES.map((m, c) => <Panel key={`${r}-${m}`} row={r} col={c} />))}
    </div>
  )
}
